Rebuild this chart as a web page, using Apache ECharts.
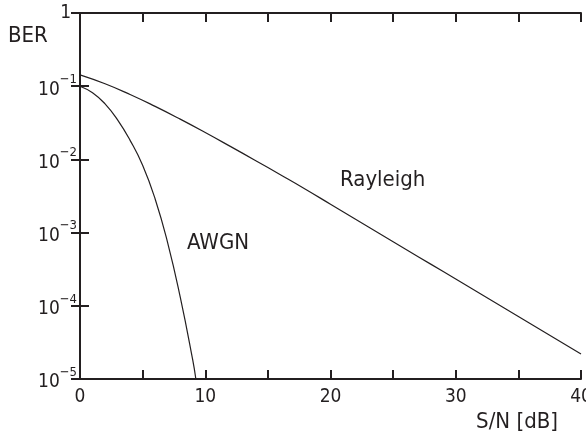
<!DOCTYPE html>
<html>
<head>
<meta charset="utf-8">
<script src="https://cdn.jsdelivr.net/npm/echarts@6/dist/echarts.min.js"></script>
<style>
html,body{margin:0;padding:0;background:#fff;}
#chart{width:586px;height:442px;}
</style>
</head>
<body>
<div id="chart"></div>
<script>
// S/N in dB and BER values
const awgnSNR = [0, 1, 2, 3, 4, 5, 6, 7, 8, 9, 9.25];
const awgnBER = [0.1, 0.0813, 0.0575, 0.0347, 0.0182, 0.00832, 0.00288, 0.000724, 0.000132, 0.0000182, 0.00001];

const rayleighSNR = [0, 2, 4, 6, 8, 10, 12, 14, 16, 18, 20, 22, 24, 26, 28, 30, 32, 34, 36, 38, 40];
const rayleighBER = [0.143, 0.108, 0.0771, 0.053, 0.0355, 0.0233, 0.01506, 0.00967, 0.00617, 0.00391,
  0.00244, 0.00152, 0.00095, 0.000594, 0.000371, 0.000232, 0.000145, 0.0000903, 0.0000564, 0.0000352, 0.000022];

const xTickLabels = ['0', '10', '20', '30', '40'];
const yExponents = [0, -1, -2, -3, -4, -5];

const FONT = '"Liberation Sans Narrow", "DejaVu Sans Condensed", "Roboto Condensed", sans-serif';
const INK = '#231f20';

const pair = (xs, ys) => xs.map((x, i) => [x, ys[i]]);

const chart = echarts.init(document.getElementById('chart'), null, {renderer: 'canvas'});

const axisLineStyle = {show: true, lineStyle: {color: INK, width: 2}};
const tickStyle = {show: true, inside: true, length: 9, lineStyle: {color: INK, width: 2}};

chart.setOption({
  animation: false,
  backgroundColor: '#fff',
  grid: {left: 80, top: 13, width: 501, height: 366, containLabel: false, outerBoundsMode: 'none'},
  xAxis: [{
    type: 'value', min: 0, max: 40, interval: 5, position: 'bottom',
    axisLine: axisLineStyle, axisTick: tickStyle, splitLine: {show: false},
    axisLabel: {
      margin: 9, color: INK, fontFamily: FONT, fontSize: 19, hideOverlap: false,
      showMinLabel: true, showMaxLabel: true,
      formatter: v => (xTickLabels.indexOf(String(v)) >= 0 ? String(v) : '')
    }
  }, {
    type: 'value', min: 0, max: 40, interval: 5, position: 'top',
    axisLine: axisLineStyle, axisTick: tickStyle, splitLine: {show: false},
    axisLabel: {show: false}
  }],
  yAxis: [{
    type: 'log', logBase: 10, min: 1e-5, max: 1, splitNumber: 5, position: 'left',
    axisLine: axisLineStyle, axisTick: tickStyle, splitLine: {show: false},
    axisLabel: {
      margin: 3, color: INK, fontFamily: FONT, fontSize: 19, hideOverlap: false,
      showMinLabel: true, showMaxLabel: true,
      formatter: v => {
        const e = Math.round(Math.log10(v));
        if (yExponents.indexOf(e) < 0) return '';
        if (e === 0) return '{one|1}';
        return '{b|10}{s|\u2212' + (-e) + '}';
      },
      rich: {
        one: {fontFamily: FONT, fontSize: 19, color: INK, lineHeight: 22, padding: [0, 6, 0, 0]},
        b: {fontFamily: FONT, fontSize: 19, color: INK, lineHeight: 26, verticalAlign: 'bottom'},
        s: {fontFamily: FONT, fontSize: 13, color: INK, lineHeight: 26, verticalAlign: 'top'}
      }
    }
  }, {
    type: 'log', logBase: 10, min: 1e-5, max: 1, splitNumber: 5, position: 'right',
    axisLine: axisLineStyle, axisTick: tickStyle, splitLine: {show: false},
    axisLabel: {show: false}
  }],
  series: [{
    name: 'AWGN', type: 'line', smooth: true, symbol: 'none',
    lineStyle: {color: INK, width: 1.2},
    data: pair(awgnSNR, awgnBER)
  }, {
    name: 'Rayleigh', type: 'line', smooth: true, symbol: 'none',
    lineStyle: {color: INK, width: 1.2},
    data: pair(rayleighSNR, rayleighBER)
  }],
  graphic: [
    {type: 'text', left: 8, top: 25, style: {text: 'BER', font: '22px ' + FONT, fill: INK}},
    {type: 'text', left: 187, top: 232, style: {text: 'AWGN', font: '22px ' + FONT, fill: INK}},
    {type: 'text', left: 340, top: 169, style: {text: 'Rayleigh', font: '22px ' + FONT, fill: INK}},
    {type: 'text', right: 28, top: 411, style: {text: 'S/N [dB]', font: '22px ' + FONT, fill: INK}}
  ]
});
</script>
</body>
</html>
